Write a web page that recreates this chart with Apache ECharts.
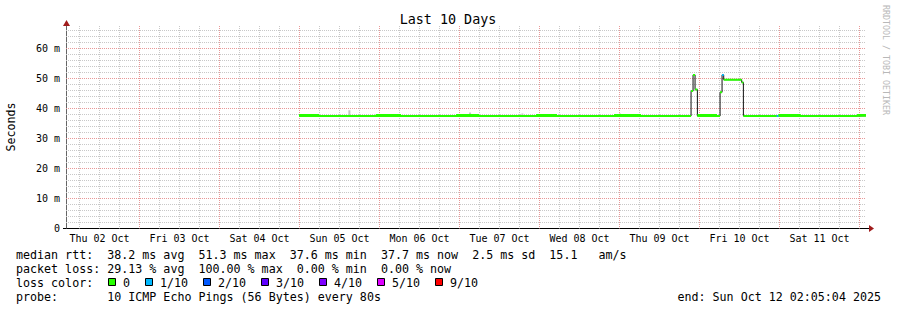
<!DOCTYPE html>
<html><head><meta charset="utf-8">
<script src="https://cdn.jsdelivr.net/npm/echarts@6/dist/echarts.min.js"></script>
<style>html,body{margin:0;padding:0;background:#fff}#c{width:897px;height:310px}</style>
</head><body><div id="c"></div>
<script>
// ---- time axis: hours since Thu 02 Oct 00:00 ----
const startHour = 2 + 5/60 + 4/3600;      // Thu 02 Oct 02:05:04
const endHour = startHour + 240;           // Sun 12 Oct 02:05:04
const dayLabels = ['Thu 02 Oct','Fri 03 Oct','Sat 04 Oct','Sun 05 Oct','Mon 06 Oct','Tue 07 Oct','Wed 08 Oct','Thu 09 Oct','Fri 10 Oct','Sat 11 Oct'];
const dayNoon = [12,36,60,84,108,132,156,180,204,228];
const midnights = [24,48,72,96,120,144,168,192,216,240];
const sixHourTicks = [6,12,18,30,36,42,54,60,66,78,84,90,102,108,114,126,132,138,150,156,162,174,180,186,198,204,210,222,228,234];
const yMajorStep = 10;
const yMinorStep = 2;
const yMax = 67.33;

// ---- median rtt segments (ms) ----
const segStart = [72.0,78.0,95.0,102.6,119.1,126.0,143.1,149.4,166.5,174.6,189.6,190.2,190.8,191.5,197.4,198.3,198.9,199.4,204.8,205.3,215.3,215.8,222.5,239.4];
const segEnd   = [78.0,95.0,102.6,119.1,126.0,143.1,149.4,166.5,174.6,189.6,190.2,190.8,191.5,197.4,198.3,198.9,199.4,204.8,205.3,215.3,215.8,222.5,239.4,endHour];
const segLow   = [37.5,37.5,37.5,37.5,37.5,37.5,37.5,37.5,37.5,37.5,45.8,51.2,46.3,37.5,37.5,45.4,51.2,49.6,48.7,37.5,37.5,37.5,37.5,37.6];
const segHigh  = [37.8,37.5,37.8,37.5,37.8,37.5,37.8,37.5,37.8,37.5,45.8,51.2,46.3,37.8,37.5,45.4,51.2,49.6,48.7,37.5,37.5,37.8,37.5,37.8];
const segLoss  = [0,0,0,0,0,0,0,0,0,0,0,0,0,0,0,0,1,0,0,0,1,0,0,0];

// ---- smoke spikes ----
const smokeTime = [87.1,123.3,139.0,168.3];
const smokeBase = [37.5,37.5,37.5,37.5];
const smokeTop  = [39.4,38.7,38.3,38.3];

// ---- legend ----
const lossLabels = ['0','1/10','2/10','3/10','4/10','5/10','9/10'];
const lossColors = ['#26ff00','#00b8ff','#0059ff','#5e00ff','#7e00ff','#dd00ff','#ff0000'];
const lossLevels = [0,1,2,3,4,5,9];
const statLine1 = 'median rtt:  38.2 ms avg  51.3 ms max  37.6 ms min  37.7 ms now  2.5 ms sd  15.1   am/s';
const statLine2 = 'packet loss: 29.13 % avg  100.00 % max  0.00 % min  0.00 % now';
const statLine3 = 'loss color:';
const statLine4 = 'probe:       10 ICMP Echo Pings (56 Bytes) every 80s';
const endText = 'end: Sun Oct 12 02:05:04 2025';
const titleText = 'Last 10 Days';
const yName = 'Seconds';
const credit = 'RRDTOOL / TOBI OETIKER';

const MONO = "'DejaVu Sans Mono', monospace";
// data grid (horizontal grid lines crisp) and time grid (vertical grid lines crisp)
const G = {left:66, top:26.5, width:800, height:202};
const GT = {left:66.45, top:26, width:800, height:202.5};
const minorCol = '#c8c8c8', majorCol = '#e89898';

// build series
const blackData = [];
segStart.forEach((s,i)=>{ blackData.push([s, segLow[i]], [segEnd[i], segLow[i]]); });
const smokeData = [];
smokeTime.forEach((t,i)=>{ smokeData.push([t, smokeBase[i]],[t, smokeTop[i]],[t,'-']); });
const common = {type:'line', symbol:'none', animation:false, connectNulls:false, silent:true, xAxisIndex:2, yAxisIndex:0};
const series = [
  Object.assign({}, common, {data:smokeData, lineStyle:{width:2,color:'#c4c4c4'}}),
  Object.assign({}, common, {data:blackData, lineStyle:{width:1,color:'#111'}})
];
lossLevels.forEach((L,k)=>{
  const d = [];
  segStart.forEach((s,i)=>{
    if (segLoss[i] !== L) return;
    d.push([s, segLow[i]],[segEnd[i], segLow[i]],[segEnd[i],'-']);
    if (segHigh[i] !== segLow[i]) d.push([s, segHigh[i]],[segEnd[i], segHigh[i]],[segEnd[i],'-']);
  });
  if (d.length) series.push(Object.assign({}, common, {data:d, lineStyle:{width:2,color:lossColors[k]}}));
});

// graphics
const graphics = [];
graphics.push({type:'text', x:448, y:19, style:{text:titleText, font:'13.4px '+MONO, fill:'#000', align:'center', verticalAlign:'middle'}});
graphics.push({type:'text', x:11, y:127, rotation:Math.PI/2, style:{text:yName, font:'11.6px '+MONO, fill:'#000', align:'center', verticalAlign:'middle'}});
graphics.push({type:'text', x:886, y:5, rotation:-Math.PI/2, style:{text:credit, font:'8.3px '+MONO, fill:'#b8b8b8', align:'left', verticalAlign:'middle'}});
// axis arrows
const axX = G.left + 0.5, axY = G.top + G.height;
graphics.push({type:'polygon', shape:{points:[[axX-3.5,G.top-0.5],[axX+3.5,G.top-0.5],[axX,G.top-6.5]]}, style:{fill:'#a01c1c'}});
graphics.push({type:'polygon', shape:{points:[[G.left+G.width+3,axY-3.5],[G.left+G.width+3,axY+3.5],[G.left+G.width+8,axY]]}, style:{fill:'#a01c1c'}});
graphics.push({type:'line', shape:{x1:G.left-3,y1:axY,x2:G.left+G.width+3,y2:axY}, style:{stroke:'#000',lineWidth:1}});
graphics.push({type:'line', shape:{x1:axX,y1:G.top-0.5,x2:axX,y2:axY}, style:{stroke:'#666',lineWidth:1}});
// legend rows
const rowY = [254.5, 268.5, 282.5, 296.5];
[statLine1, statLine2, statLine3, statLine4].forEach((t,i)=>{
  graphics.push({type:'text', x:16, y:rowY[i], style:{text:t, font:'11.66px '+MONO, fill:'#000', align:'left', verticalAlign:'middle'}});
});
graphics.push({type:'text', x:881, y:rowY[3], style:{text:endText, font:'11.66px '+MONO, fill:'#000', align:'right', verticalAlign:'middle'}});
let bx = 108;
lossLabels.forEach((lab,k)=>{
  graphics.push({type:'rect', shape:{x:bx+0.5, y:278.5, width:7, height:7}, style:{fill:lossColors[k], stroke:'#000', lineWidth:1}});
  const tx = bx + 15;
  graphics.push({type:'text', x:tx, y:rowY[2], style:{text:lab, font:'11.66px '+MONO, fill:'#000', align:'left', verticalAlign:'middle'}});
  bx = tx + lab.length*7 + 15;
});

const dotted = [1,1];
const gridLine = (c)=>({color:c, width:1, type:dotted});
const option = {
  backgroundColor:'#fff',
  animation:false,
  grid:[
    {left:G.left, top:G.top, width:G.width, height:G.height, containLabel:false},
    {left:GT.left, top:GT.top, width:GT.width, height:GT.height, containLabel:false}
  ],
  xAxis:[
    {type:'value', min:startHour, max:endHour, gridIndex:1,
     axisLine:{show:false}, axisLabel:{show:false},
     axisTick:{show:false, customValues:sixHourTicks},
     splitLine:{show:true, lineStyle:gridLine(minorCol)}
    },
    {type:'value', min:startHour, max:endHour, gridIndex:1, position:'bottom',
     axisLine:{show:false},
     axisTick:{show:false, customValues:midnights},
     splitLine:{show:true, lineStyle:gridLine(majorCol)},
     axisLabel:{show:true, customValues:dayNoon, margin:5, fontFamily:MONO, fontSize:10, color:'#000',
       formatter:(v)=>{const i=dayNoon.indexOf(Math.round(v)); return i>=0?dayLabels[i]:'';}}
    },
    {type:'value', min:startHour, max:endHour, gridIndex:0, show:false}
  ],
  yAxis:[
    {type:'value', min:0, max:yMax, interval:yMinorStep, gridIndex:0, position:'left',
     axisLine:{show:false}, axisLabel:{show:false}, axisTick:{show:false},
     splitLine:{show:true, showMinLine:false, showMaxLine:false, lineStyle:gridLine(minorCol)}
    },
    {type:'value', min:0, max:yMax, interval:yMajorStep, gridIndex:0, position:'left',
     axisLine:{show:false},
     axisTick:{show:false},
     splitLine:{show:true, showMinLine:false, showMaxLine:false, lineStyle:gridLine(majorCol)},
     axisLabel:{margin:6, fontFamily:MONO, fontSize:10, color:'#000', showMaxLabel:false,
       formatter:(v)=> v===0 ? '0' : (v + ' m')}
    },
    {type:'value', min:0, max:yMax, gridIndex:1, show:false}
  ],
  series: series,
  graphic: graphics
};
const chart = echarts.init(document.getElementById('c'), null, {renderer:'svg'});
chart.setOption(option);
</script>
</body></html>
